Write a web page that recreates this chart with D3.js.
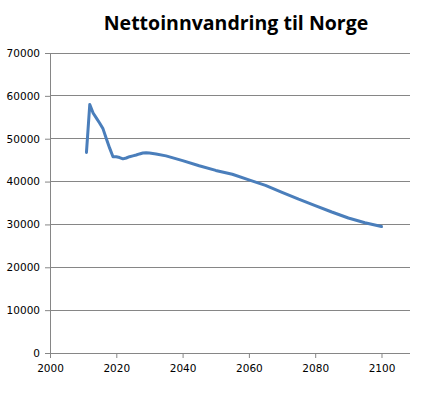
<!DOCTYPE html>
<html>
<head>
<meta charset="utf-8">
<script src="https://cdn.jsdelivr.net/npm/d3@7"></script>
<style>
  body { margin: 0; background: #fff; }
  .axis text { font-family: "DejaVu Sans", Verdana, sans-serif; font-size: 10.5px; fill: #000; }
  .axis path, .axis line { stroke: #868686; }
  .title { font-family: "Open Sans", "Noto Sans", sans-serif; font-weight: bold; font-size: 19.5px; }
</style>
</head>
<body>
<div id="chart"></div>
<script>
// years and net immigration values
const years = [2011, 2012, 2013, 2014, 2015, 2016, 2017, 2018, 2019, 2020,
               2021, 2022, 2023, 2024, 2025, 2026, 2027, 2028, 2029, 2030,
               2032, 2035, 2040, 2045, 2050, 2055, 2060, 2065, 2070, 2075,
               2080, 2085, 2090, 2095, 2100];
const values = [46800, 58000, 56000, 54800, 53600, 52300, 50000, 47800, 45800, 45800,
                45600, 45300, 45500, 45800, 46000, 46200, 46450, 46650, 46700, 46650,
                46450, 46000, 44900, 43700, 42600, 41700, 40400, 39100, 37500, 35900,
                34400, 32900, 31500, 30400, 29500];
const xTicks = [2000, 2020, 2040, 2060, 2080, 2100];
const yTicks = [0, 10000, 20000, 30000, 40000, 50000, 60000, 70000];

const data = years.map((d, i) => ({ year: d, value: values[i] }));

const margin = { top: 53, right: 31, bottom: 47, left: 50 };
const width = 441 - margin.left - margin.right;
const height = 400 - margin.top - margin.bottom;

const svg = d3.select("#chart").append("svg")
    .attr("width", 441)
    .attr("height", 400);

svg.append("text")
    .attr("class", "title")
    .attr("x", 236)
    .attr("y", 30)
    .attr("text-anchor", "middle")
    .text("Nettoinnvandring til Norge");

const g = svg.append("g")
    .attr("transform", "translate(" + margin.left + "," + margin.top + ")");

const x = d3.scaleLinear().domain([2000, 2108.6]).range([0, width]);
const y = d3.scaleLinear().domain([0, 70000]).range([height, 0]);

// gridlines
g.append("g")
    .selectAll("line")
    .data(yTicks.slice(1))
    .join("line")
    .attr("x1", 0)
    .attr("x2", width)
    .attr("y1", d => y(d))
    .attr("y2", d => y(d))
    .attr("stroke", "#868686")
    .attr("shape-rendering", "crispEdges");

const yAxis = g.append("g")
    .attr("class", "axis")
    .call(d3.axisLeft(y).tickValues(yTicks).tickFormat(d3.format("d")).tickSize(5).tickPadding(5));

const xAxis = g.append("g")
    .attr("class", "axis")
    .attr("transform", "translate(0," + height + ")")
    .call(d3.axisBottom(x).tickValues(xTicks).tickFormat(d3.format("d")).tickSize(5).tickPadding(7));

g.selectAll(".axis path").attr("shape-rendering", "crispEdges");
// plain axis lines without end caps
yAxis.select(".domain").attr("d", "M0," + height + "V0");
xAxis.select(".domain").attr("d", "M0,0H" + width);

const valueline = d3.line()
    .x(d => x(d.year))
    .y(d => y(d.value));

g.append("path")
    .datum(data)
    .attr("fill", "none")
    .attr("stroke", "#4A7EBB")
    .attr("stroke-width", 3)
    .attr("stroke-linejoin", "round")
    .attr("stroke-linecap", "round")
    .attr("d", valueline);
</script>
</body>
</html>
